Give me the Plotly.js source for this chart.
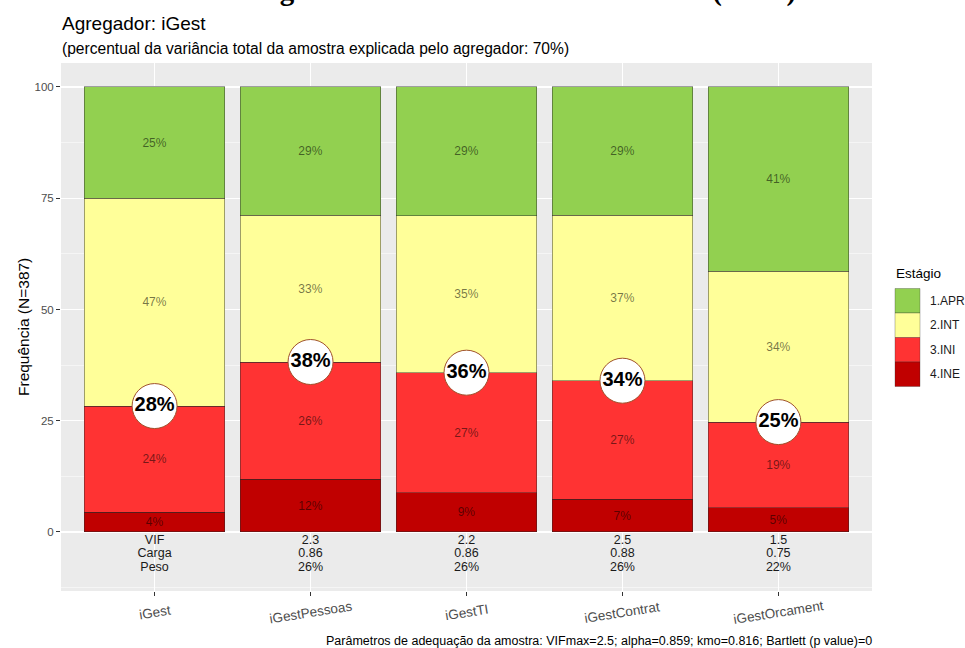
<!DOCTYPE html>
<html>
<head>
<meta charset="utf-8">
<script src="https://cdn.plot.ly/plotly-3.0.1.min.js"></script>
<style>html,body{margin:0;padding:0;background:#fff;}#chart{width:965px;height:648px;}</style>
</head>
<body>
<div id="chart"></div>
<script>
// ---- data ----
const categories = ['iGest', 'iGestPessoas', 'iGestTI', 'iGestContrat', 'iGestOrcament'];
const stages = ['1.APR', '2.INT', '3.INI', '4.INE'];
const valAPR = [25.0, 28.8, 28.9, 28.8, 41.4];
const valINT = [46.7, 33.0, 35.3, 37.2, 33.9];
const valINI = [23.9, 26.3, 27.0, 26.6, 19.3];
const valINE = [4.4, 11.9, 8.8, 7.4, 5.4];
const lblAPR = ['25%', '29%', '29%', '29%', '41%'];
const lblINT = ['47%', '33%', '35%', '37%', '34%'];
const lblINI = ['24%', '26%', '27%', '27%', '19%'];
const lblINE = ['4%', '12%', '9%', '7%', '5%'];
const lblCircle = ['28%', '38%', '36%', '34%', '25%'];
const rowVIF = ['VIF', '2.3', '2.2', '2.5', '1.5'];
const rowCarga = ['Carga', '0.86', '0.86', '0.88', '0.75'];
const rowPeso = ['Peso', '26%', '26%', '26%', '22%'];
const figTitle = 'Figura 30 - Índice de Gestão Pública (iGest)';
const chartTitle = 'Agregador: iGest';
const chartSubtitle = '(percentual da variância total da amostra explicada pelo agregador: 70%)';
const yTitle = 'Frequência (N=387)';
const legendTitle = 'Estágio';
const caption = 'Parâmetros de adequação da amostra: VIFmax=2.5; alpha=0.859; kmo=0.816; Bartlett (p value)=0';

// ---- styles ----
const FONT = 'Liberation Sans, Arial, sans-serif';
const colors = {'1.APR': '#92D050', '2.INT': '#FFFF99', '3.INI': '#FF3333', '4.INE': '#C00000'};
const L = 61, R = 872, T = 63, B = 591;
const px = X => (X - L) / (R - L);
const py = Y => (B - Y) / (B - T);

function barTrace(name, vals, lbls) {
  return {
    type: 'bar', name: name, x: categories, y: vals, text: lbls,
    texttemplate: '%{text}', textposition: 'inside', insidetextanchor: 'middle',
    textangle: 0, constraintext: 'none',
    textfont: {family: FONT, size: 12, color: 'rgba(0,0,0,0.55)'},
    marker: {color: colors[name], line: {color: 'rgba(40,40,40,0.75)', width: 0.6}},
    width: 0.9, hoverinfo: 'skip', showlegend: false
  };
}

const cum = categories.map((c, i) => valINE[i] + valINI[i]);

function rowTrace(vals, yv) {
  return {
    type: 'scatter', mode: 'text', x: categories, y: categories.map(() => yv), text: vals,
    textposition: 'middle center', textfont: {family: FONT, size: 12.5, color: '#1a1a1a'},
    hoverinfo: 'skip', showlegend: false, cliponaxis: false
  };
}

const traces = [
  barTrace('4.INE', valINE, lblINE),
  barTrace('3.INI', valINI, lblINI),
  barTrace('2.INT', valINT, lblINT),
  barTrace('1.APR', valAPR, lblAPR),
  {
    type: 'scatter', mode: 'markers+text', x: categories, y: cum, text: lblCircle,
    textposition: 'middle center',
    textfont: {family: FONT, size: 20, color: '#000', weight: 'bold'},
    marker: {size: 45, color: '#ffffff', line: {color: '#A0522D', width: 1}},
    hoverinfo: 'skip', showlegend: false, cliponaxis: false
  },
  rowTrace(rowVIF, -2.1),
  rowTrace(rowCarga, -4.95),
  rowTrace(rowPeso, -8.0)
];

const annotations = [
  {text: '<b>' + figTitle + '</b>', xref: 'paper', yref: 'paper', x: px(525), y: py(-10),
   xanchor: 'center', yanchor: 'middle', showarrow: false,
   font: {family: 'Liberation Serif, Times New Roman, serif', size: 29, color: '#000'}},
  {text: chartTitle, xref: 'paper', yref: 'paper', x: px(60), y: py(23),
   xanchor: 'left', yanchor: 'middle', showarrow: false,
   font: {family: FONT, size: 19, color: '#000'}},
  {text: chartSubtitle, xref: 'paper', yref: 'paper', x: px(60), y: py(48),
   xanchor: 'left', yanchor: 'middle', showarrow: false,
   font: {family: FONT, size: 15.6, color: '#000'}},
  {text: yTitle, xref: 'paper', yref: 'paper', x: px(23), y: 0.5, textangle: -90,
   xanchor: 'center', yanchor: 'middle', showarrow: false,
   font: {family: FONT, size: 15.5, color: '#000'}},
  {text: caption, xref: 'paper', yref: 'paper', x: px(874), y: py(641),
   xanchor: 'right', yanchor: 'middle', showarrow: false,
   font: {family: FONT, size: 12.5, color: '#000'}},
  {text: legendTitle, xref: 'paper', yref: 'paper', x: px(894), y: py(273),
   xanchor: 'left', yanchor: 'middle', showarrow: false,
   font: {family: FONT, size: 13.5, color: '#000'}}
];

categories.forEach(c => {
  annotations.push({text: c, xref: 'x', yref: 'paper', x: c, y: py(612), textangle: -9,
    xanchor: 'center', yanchor: 'middle', showarrow: false,
    font: {family: FONT, size: 13.5, color: '#4d4d4d'}});
});

const shapes = [];
const keyTop = 288.5, keyH = 24.5;
stages.forEach((s, i) => {
  const y0 = keyTop + i * keyH, y1 = y0 + keyH;
  shapes.push({type: 'rect', xref: 'paper', yref: 'paper', x0: px(895), x1: px(920),
    y0: py(y1), y1: py(y0), fillcolor: colors[s], line: {color: 'rgba(40,40,40,0.5)', width: 0.6}});
  annotations.push({text: s, xref: 'paper', yref: 'paper', x: px(928), y: py((y0 + y1) / 2),
    xanchor: 'left', yanchor: 'middle', showarrow: false,
    font: {family: FONT, size: 12, color: '#1a1a1a'}});
});

const layout = {
  width: 965, height: 648,
  margin: {l: L, r: 965 - R, t: T, b: 648 - B, pad: 0},
  paper_bgcolor: '#ffffff', plot_bgcolor: '#EBEBEB',
  barmode: 'stack',
  font: {family: FONT},
  showlegend: false,
  xaxis: {
    type: 'category', range: [-0.6, 4.6], showgrid: true, gridcolor: '#ffffff', gridwidth: 1.1,
    ticks: 'outside', ticklen: 4, tickcolor: '#333333', tickwidth: 1,
    showticklabels: false, zeroline: false, showline: false, fixedrange: true
  },
  yaxis: {
    range: [-13.26, 105.39], tickmode: 'array', tickvals: [0, 25, 50, 75, 100],
    showgrid: true, gridcolor: '#ffffff', gridwidth: 1.1,
    minor: {tickmode: 'array', tickvals: [-12.5, 12.5, 37.5, 62.5, 87.5], showgrid: true, gridcolor: '#ffffff', gridwidth: 0.5, ticks: ''},
    ticks: 'outside', ticklen: 4, tickcolor: '#333333', tickwidth: 1,
    tickfont: {family: FONT, size: 11.5, color: '#4d4d4d'},
    zeroline: false, showline: false, fixedrange: true
  },
  annotations: annotations,
  shapes: shapes
};

Plotly.newPlot('chart', traces, layout, {staticPlot: true, displayModeBar: false});
</script>
</body>
</html>
